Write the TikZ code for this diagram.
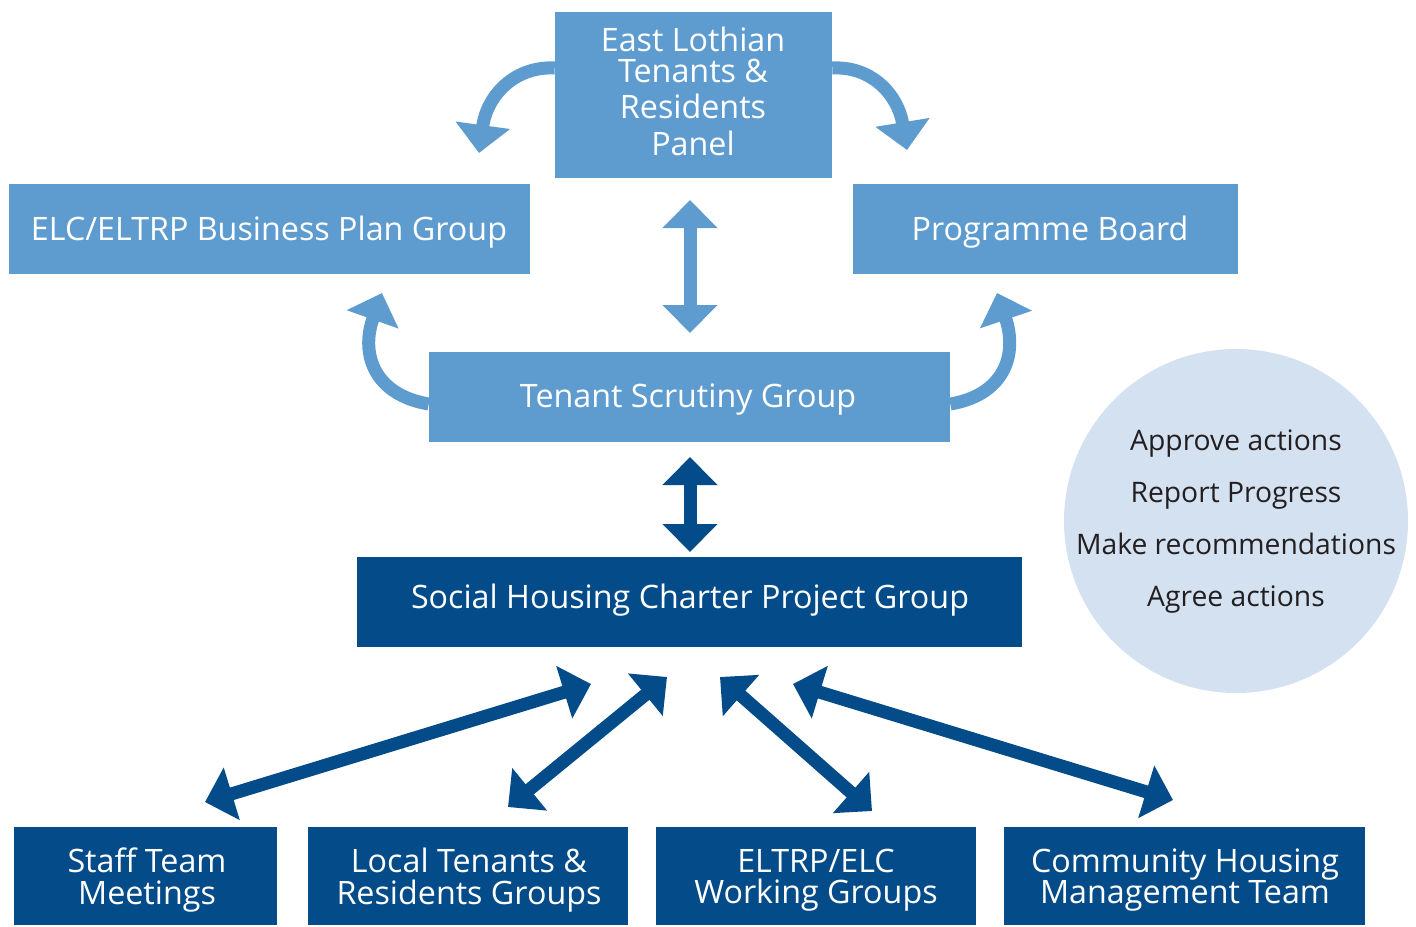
\documentclass[tikz,border=0pt]{standalone}
\usepackage{fontspec}
\setmainfont{Open Sans}
\usetikzlibrary{arrows.meta}
\definecolor{lightblue}{HTML}{5E9CD0}
\definecolor{darkblue}{HTML}{034B89}
\definecolor{paleblue}{HTML}{D4E1F1}
\definecolor{inkgrey}{HTML}{231F20}
\begin{document}
\begin{tikzpicture}[x=0.75pt,y=-0.75pt,
  boxshape/.style={rectangle, inner sep=0pt},
  boxbase/.style={rectangle, inner sep=0pt, align=center, text=white,
    font=\fontsize{24.2}{23.5}\selectfont},
  lightbox/.style={boxshape, fill=lightblue},
  darkbox/.style={boxshape, fill=darkblue},
  lightarrow/.style={draw=lightblue, line width=9.75pt, -{Triangle[length=21pt,width=40pt]}},
  lightdouble/.style={draw=lightblue, line width=9.75pt, {Triangle[length=21pt,width=40pt]}-{Triangle[length=21pt,width=40pt]}},
  darkdouble/.style={draw=darkblue, line width=9.75pt, {Triangle[length=21pt,width=40pt]}-{Triangle[length=21pt,width=40pt]}}
]
\useasboundingbox (0,0) rectangle (1416,926);

% boxes
\node[lightbox, minimum width=207.75pt, minimum height=124.5pt] (panel) at (693.5,95) {};
\node[lightbox, minimum width=390.75pt, minimum height=67.5pt] (bplan) at (269.5,229) {};
\node[lightbox, minimum width=288.75pt, minimum height=67.5pt] (board) at (1045.5,229) {};
\node[lightbox, minimum width=390.75pt, minimum height=67.5pt] (scrutiny) at (689.5,397) {};
\node[darkbox, minimum width=498.75pt, minimum height=67.5pt] (charter) at (689.5,602) {};
\node[darkbox, minimum width=197.25pt, minimum height=73.5pt] (staff) at (145.5,876) {};
\node[darkbox, minimum width=240pt, minimum height=73.5pt] (local) at (468,876) {};
\node[darkbox, minimum width=240pt, minimum height=73.5pt] (working) at (816,876) {};
\node[darkbox, minimum width=270.75pt, minimum height=73.5pt] (chmt) at (1184.5,876) {};

% box labels
\node[boxbase] (paneltext) at (693,91)
  {East Lothian\\ Tenants \&\\[3.8pt] Residents\\[3.8pt] Panel};
\node[boxbase] (bplantext) at (269,232) {ELC/ELTRP Business Plan Group};
\node[boxbase] (boardtext) at (1050,232) {Programme Board};
\node[boxbase] (scrutinytext) at (688,400) {Tenant Scrutiny Group};
\node[boxbase] (chartertext) at (690,600) {Social Housing Charter Project Group};
\node[boxbase] (stafftext) at (147,880) {Staff Team\\ Meetings};
\node[boxbase] (localtext) at (469,880) {Local Tenants \&\\ Residents Groups};
\node[boxbase] (workingtext) at (816,880) {ELTRP/ELC\\ Working Groups};
\node[boxbase] (chmttext) at (1185,880) {Community Housing\\ Management Team};

% roles circle
\node[circle, fill=paleblue, minimum size=258pt, inner sep=0pt] (roles) at (1236,521) {};
\node[align=center, text=inkgrey, font=\fontsize{21.2}{39}\selectfont] (rolestext) at (1236,522)
  {Approve actions\\ Report Progress\\ Make recommendations\\ Agree actions};

% arrow end points
\coordinate (panelL) at (panel.west |- 0,68);
\coordinate (panelR) at (panel.east |- 0,68);
\coordinate (scrL) at (scrutiny.west |- 0,404);
\coordinate (scrR) at (scrutiny.east |- 0,404);
\coordinate (tipBplan) at (479,153);
\coordinate (tipBoard) at (907,150);
\coordinate (tipBplanLow) at (382,293);
\coordinate (tipBoardLow) at (997,293);
\coordinate (vA) at (690,200);
\coordinate (vB) at (690,333);
\coordinate (vC) at (690,457);
\coordinate (vD) at (690,552);
\coordinate (sA) at (205,802);
\coordinate (sB) at (591,684);
\coordinate (lA) at (508,807);
\coordinate (lB) at (667,677);
\coordinate (wA) at (720,677);
\coordinate (wB) at (872,811);
\coordinate (cA) at (793,684);
\coordinate (cB) at (1173,800);

% curved arrows from the panel and the scrutiny group
\draw[lightarrow] (panelL) .. controls (515,66) and (487,95) .. (tipBplan);
\draw[lightarrow] (panelR) .. controls (872,66) and (898,95) .. (tipBoard);
\draw[lightarrow] (scrL) .. controls (375,395) and (360,355) .. (tipBplanLow);
\draw[lightarrow] (scrR) .. controls (1004,395) and (1018,355) .. (tipBoardLow);

% straight two-way arrows
\draw[lightdouble] (vA) -- (vB);
\draw[darkdouble] (vC) -- (vD);
\draw[darkdouble] (sA) -- (sB);
\draw[darkdouble] (lA) -- (lB);
\draw[darkdouble] (wA) -- (wB);
\draw[darkdouble] (cA) -- (cB);
\end{tikzpicture}
\end{document}
